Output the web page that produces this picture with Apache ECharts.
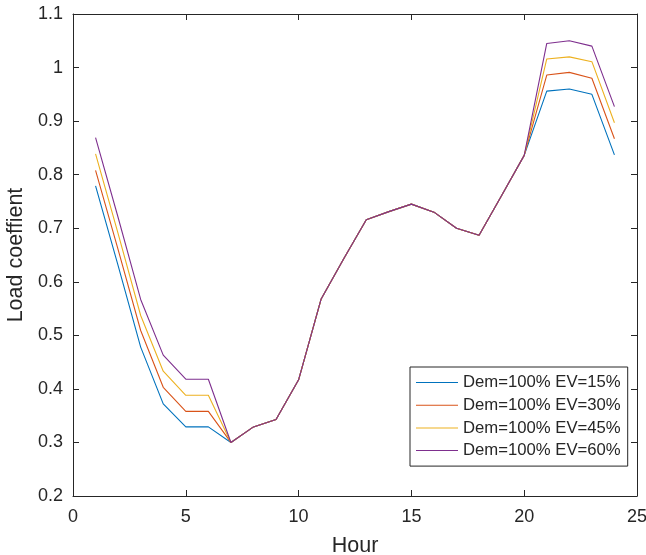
<!DOCTYPE html>
<html>
<head>
<meta charset="utf-8">
<script src="https://cdn.jsdelivr.net/npm/echarts@6/dist/echarts.min.js"></script>
<style>html,body{margin:0;padding:0;background:#fff;}#c{width:646px;height:555px;}</style>
</head>
<body>
<div id="c"></div>
<script>
var hours = [1,2,3,4,5,6,7,8,9,10,11,12,13,14,15,16,17,18,19,20,21,22,23,24];
var seriesNames = ['Dem=100% EV=15%','Dem=100% EV=30%','Dem=100% EV=45%','Dem=100% EV=60%'];
var ev15 = [0.779,0.630,0.478,0.372,0.329,0.329,0.300,0.329,0.343,0.417,0.568,0.643,0.716,0.731,0.745,0.730,0.700,0.687,0.761,0.836,0.956,0.960,0.950,0.837];
var ev30 = [0.808,0.660,0.509,0.403,0.358,0.358,0.300,0.329,0.343,0.417,0.568,0.643,0.716,0.731,0.745,0.730,0.700,0.687,0.761,0.836,0.986,0.991,0.980,0.867];
var ev45 = [0.839,0.690,0.537,0.433,0.388,0.388,0.300,0.329,0.343,0.417,0.568,0.643,0.716,0.731,0.745,0.730,0.700,0.687,0.761,0.836,1.016,1.020,1.011,0.897];
var ev60 = [0.869,0.720,0.567,0.463,0.418,0.418,0.300,0.329,0.343,0.417,0.568,0.643,0.716,0.731,0.745,0.730,0.700,0.687,0.761,0.836,1.045,1.050,1.040,0.927];
var xTicks = [0,5,10,15,20,25];
var yTicks = [0.2,0.3,0.4,0.5,0.6,0.7,0.8,0.9,1,1.1];

var colors = ['#0072BD','#D95319','#EDB120','#7E2F8E'];
var allVals = [ev15, ev30, ev45, ev60];
var font = 'Liberation Sans, Arial, Helvetica, sans-serif';
var axCol = '#262626';

function pairs(v){ return hours.map(function(h,i){ return [h, v[i]]; }); }

var chart = echarts.init(document.getElementById('c'), null, {renderer:'canvas'});
var axisBase = {
  axisLine:{show:true, onZero:false, lineStyle:{color:axCol, width:1}},
  axisTick:{show:true, inside:true, length:6, lineStyle:{color:axCol, width:1}},
  splitLine:{show:false}
};
chart.setOption({
  animation:false,
  backgroundColor:'#ffffff',
  color: colors,
  grid:{left:73, right:9, top:14, bottom:59, containLabel:false, outerBoundsMode:'none'},
  legend:{
    show:true, orient:'vertical', left:410, top:367,
    data: seriesNames,
    backgroundColor:'#ffffff', borderColor:axCol, borderWidth:1, borderRadius:0,
    padding:[6,7,6,6], itemGap:3.7, itemWidth:42, itemHeight:1.2,
    icon:'path://M0,0 L42,0 L42,1 L0,1 Z',
    textStyle:{fontFamily:font, fontSize:16.7, color:axCol, lineHeight:19}
  },
  xAxis:[
    Object.assign({}, axisBase, {
      type:'value', min:xTicks[0], max:xTicks[xTicks.length-1], interval:5, position:'bottom',
      name:'Hour', nameLocation:'middle', nameGap:39,
      nameTextStyle:{fontFamily:font, fontSize:21.5, color:axCol},
      axisLabel:{show:true, margin:12, fontFamily:font, fontSize:18, color:axCol}
    }),
    Object.assign({}, axisBase, {
      type:'value', min:xTicks[0], max:xTicks[xTicks.length-1], interval:5, position:'top',
      axisLabel:{show:false}
    })
  ],
  yAxis:[
    Object.assign({}, axisBase, {
      type:'value', min:yTicks[0], max:yTicks[yTicks.length-1], interval:0.1, position:'left',
      name:'Load coeffient', nameLocation:'middle', nameGap:36, nameRotate:90,
      nameTextStyle:{fontFamily:font, fontSize:21.5, color:axCol},
      axisLabel:{show:true, margin:10, fontFamily:font, fontSize:18, color:axCol,
        formatter:function(v){ return String(+v.toFixed(1)); }}
    }),
    Object.assign({}, axisBase, {
      type:'value', min:yTicks[0], max:yTicks[yTicks.length-1], interval:0.1, position:'right',
      axisLabel:{show:false}
    })
  ],
  series: seriesNames.map(function(n,i){
    return {
      name:n, type:'line', xAxisIndex:0, yAxisIndex:0,
      data: pairs(allVals[i]), symbol:'none', showSymbol:false,
      lineStyle:{color:colors[i], width:1.1}, itemStyle:{color:colors[i]},
      z: 2+i
    };
  })
});
</script>
</body>
</html>
